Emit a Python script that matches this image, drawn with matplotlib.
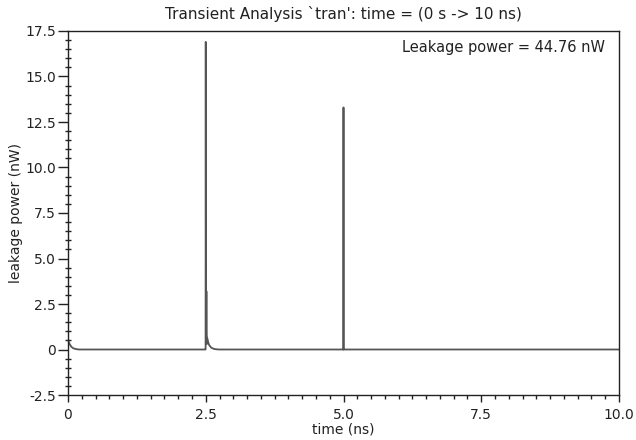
import matplotlib
matplotlib.use("Agg")
import matplotlib.pyplot as plt
from matplotlib.ticker import MultipleLocator, FuncFormatter

# data (time in ns, leakage power in nW)
time_ns = [0.0, 0.01, 0.03, 0.06, 0.1, 0.15, 0.2,
           2.49, 2.497, 2.5, 2.504, 2.512, 2.52, 2.524, 2.53, 2.54, 2.56, 2.6, 2.65, 2.7, 2.75,
           4.995, 4.998, 5.0, 5.002, 5.005, 10.0]
power_nw = [0.6, 0.45, 0.3, 0.15, 0.06, 0.02, 0.0,
            0.0, 0.0, 16.9, 0.3, 3.2, 0.3, 0.65, 0.6, 0.45, 0.25, 0.1, 0.03, 0.01, 0.0,
            0.0, 0.0, 13.3, 0.0, 0.0, 0.0]

title = "Transient Analysis `tran': time = (0 s -> 10 ns)"
annotation = "Leakage power = 44.76 nW"
xlabel = "time (ns)"
ylabel = "leakage power (nW)"

fig = plt.figure(figsize=(6.36, 4.40), dpi=100)
ax = fig.add_axes([68/636, 1-395/440, (619-68)/636, (395-31)/440])
ax.plot(time_ns, power_nw, color="#555555", lw=1.3)

ax.set_xlim(0, 10)
ax.set_ylim(-2.5, 17.5)
ax.xaxis.set_major_locator(MultipleLocator(2.5))
ax.xaxis.set_minor_locator(MultipleLocator(0.25))
ax.yaxis.set_major_locator(MultipleLocator(2.5))
ax.yaxis.set_minor_locator(MultipleLocator(0.5))

fmt = FuncFormatter(lambda v, p: "0" if abs(v) < 1e-9 else f"{v:.1f}")
ax.xaxis.set_major_formatter(fmt)
ax.yaxis.set_major_formatter(fmt)

ax.tick_params(axis="y", which="major", direction="out", length=7.5, width=1, pad=1,
               colors="#222222", labelsize=10)
ax.tick_params(axis="y", which="minor", direction="inout", length=4, width=1, colors="#222222")
ax.tick_params(axis="x", which="major", direction="out", length=5, width=1, pad=4,
               colors="#222222", labelsize=10)
ax.tick_params(axis="x", which="minor", direction="out", length=3, width=1, colors="#222222")
ax.tick_params(which="both", top=False, right=False)
for s in ax.spines.values():
    s.set_color("#222222")
    s.set_linewidth(1)

ax.set_title(title, fontsize=11, pad=9, color="#222222")
ax.set_xlabel(xlabel, fontsize=10, labelpad=1, color="#222222")
ax.set_ylabel(ylabel, fontsize=10, labelpad=2, color="#222222")
ax.text(0.975, 0.955, annotation, transform=ax.transAxes, ha="right", va="center",
        fontsize=10.5, color="#222222")

fig.savefig("out.png", dpi=100)
